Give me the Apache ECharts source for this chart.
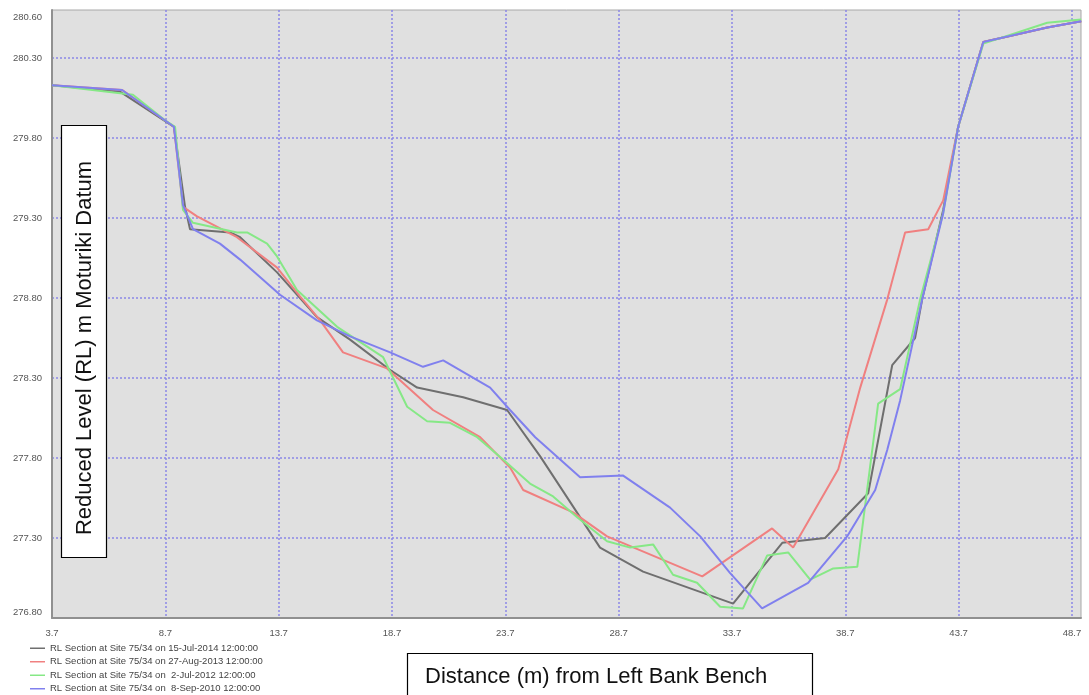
<!DOCTYPE html>
<html>
<head>
<meta charset="utf-8">
<script src="https://cdn.jsdelivr.net/npm/echarts@6/dist/echarts.min.js"></script>
<style>
html,body{margin:0;padding:0;background:#fff;}
#chart{width:1089px;height:695px;}
</style>
</head>
<body>
<div id="chart"></div>
<script>
// ---- Data (distance in m, reduced level in m) ----
var seriesNames = [
  'RL Section at Site 75/34 on 15-Jul-2014 12:00:00',
  'RL Section at Site 75/34 on 27-Aug-2013 12:00:00',
  'RL Section at Site 75/34 on  2-Jul-2012 12:00:00',
  'RL Section at Site 75/34 on  8-Sep-2010 12:00:00'
];

var dist2014 = [3.7, 6.7, 9.08, 9.57, 9.79, 11.56, 12.0, 13.63, 15.39, 16.85, 18.62, 19.81, 21.84, 23.78, 25.24, 27.88, 28.63, 29.78, 33.75, 35.92, 37.81, 39.71, 40.77, 41.78, 42.09, 43.02, 43.68, 44.79, 47.61, 49.11];
var rl2014   = [280.13, 280.09, 279.87, 279.37, 279.23, 279.21, 279.18, 278.96, 278.68, 278.54, 278.35, 278.24, 278.18, 278.10, 277.81, 277.24, 277.18, 277.09, 276.89, 277.27, 277.30, 277.58, 278.38, 278.55, 278.79, 279.35, 279.87, 280.40, 280.49, 280.53];

var dist2013 = [3.7, 6.8, 9.08, 9.48, 10.10, 11.86, 13.63, 14.64, 15.53, 16.54, 18.48, 20.51, 22.59, 23.91, 24.49, 26.69, 28.19, 32.39, 35.47, 36.40, 38.39, 39.36, 40.55, 41.34, 42.36, 43.02, 43.68, 44.79, 47.61, 49.11];
var rl2013   = [280.13, 280.10, 279.87, 279.37, 279.31, 279.18, 278.99, 278.81, 278.66, 278.46, 278.36, 278.10, 277.93, 277.74, 277.60, 277.46, 277.31, 277.06, 277.36, 277.24, 277.73, 278.24, 278.79, 279.21, 279.23, 279.41, 279.87, 280.40, 280.49, 280.53];

var dist2012 = [3.7, 7.27, 8.69, 9.13, 9.48, 9.92, 11.86, 12.31, 13.19, 13.63, 14.51, 16.28, 18.31, 19.37, 20.25, 21.26, 22.46, 23.60, 24.79, 25.81, 26.87, 28.19, 29.21, 30.22, 31.10, 32.16, 33.18, 34.19, 35.25, 36.18, 37.15, 38.17, 39.23, 40.15, 41.12, 42.0, 43.02, 43.68, 44.79, 47.61, 49.11];
var rl2012   = [280.13, 280.07, 279.91, 279.87, 279.35, 279.27, 279.21, 279.21, 279.14, 279.06, 278.85, 278.62, 278.43, 278.12, 278.03, 278.02, 277.93, 277.79, 277.64, 277.56, 277.43, 277.28, 277.24, 277.26, 277.07, 277.02, 276.87, 276.86, 277.19, 277.21, 277.04, 277.11, 277.12, 278.14, 278.23, 278.79, 279.33, 279.87, 280.39, 280.52, 280.54];

var dist2010 = [3.7, 6.79, 9.08, 9.48, 9.92, 11.11, 12.0, 13.76, 15.39, 16.85, 18.62, 20.07, 20.96, 23.03, 23.91, 25.02, 27.0, 28.90, 30.97, 32.30, 33.62, 35.03, 37.06, 38.78, 40.02, 40.55, 41.12, 42.09, 43.02, 43.68, 44.79, 47.61, 49.11];
var rl2010   = [280.13, 280.10, 279.87, 279.38, 279.23, 279.14, 279.04, 278.82, 278.66, 278.56, 278.46, 278.37, 278.41, 278.24, 278.10, 277.93, 277.68, 277.69, 277.49, 277.31, 277.08, 276.86, 277.02, 277.31, 277.60, 277.85, 278.16, 278.79, 279.33, 279.87, 280.40, 280.49, 280.53];

var xMin = 3.7, xMax = 49.1, xStep = 5;
var yMin = 276.8, yMax = 280.6, yStep = 0.5;

var colors = ['#6f6f6f', '#f08080', '#86e886', '#8080ee'];

function pairs(xs, ys) { return xs.map(function (x, i) { return [x, ys[i]]; }); }
var allDist = [dist2014, dist2013, dist2012, dist2010];
var allRL = [rl2014, rl2013, rl2012, rl2010];

var series = seriesNames.map(function (name, i) {
  return {
    name: name,
    type: 'line',
    data: pairs(allDist[i], allRL[i]),
    symbol: 'none',
    smooth: false,
    lineStyle: { width: 2, color: colors[i] },
    itemStyle: { color: colors[i] },
    z: 3 + i
  };
});

var chart = echarts.init(document.getElementById('chart'), null, { renderer: 'canvas' });
function gridLine() {
  return { show: true, showMinLine: false, showMaxLine: false,
           lineStyle: { color: '#8a86e6', width: 1.5, type: [2, 2] } };
}

chart.setOption({
  animation: false,
  backgroundColor: '#ffffff',
  color: colors,
  grid: {
    left: 52, right: 8, top: 10, bottom: 77,
    show: true, backgroundColor: '#e0e0e0', borderColor: '#a8a8a8', borderWidth: 1
  },
  legend: {
    orient: 'vertical',
    left: 30, top: 643, height: 120,
    padding: 0,
    icon: 'rect',
    itemWidth: 15, itemHeight: 1.5,
    itemGap: 3,
    textStyle: { fontFamily: 'Liberation Sans', fontSize: 9.5, color: '#444', lineHeight: 10.5 },
    data: seriesNames
  },
  xAxis: {
    type: 'value',
    min: xMin, max: xMax, interval: xStep,
    axisLine: { show: true, onZero: false, lineStyle: { color: '#909090', width: 2 } },
    axisTick: { show: false },
    splitLine: gridLine(),
    axisLabel: {
      showMaxLabel: false,
      margin: 10,
      fontFamily: 'Liberation Sans', fontSize: 9.5, color: '#555',
      formatter: function (v) { return v.toFixed(1); }
    }
  },
  yAxis: {
    type: 'value',
    min: yMin, max: yMax, interval: yStep,
    axisLine: { show: true, onZero: false, lineStyle: { color: '#909090', width: 2 } },
    axisTick: { show: false },
    splitLine: gridLine(),
    axisLabel: {
      margin: 10,
      fontFamily: 'Liberation Sans', fontSize: 9.5, color: '#555',
      formatter: function (v) {
        var s = v.toFixed(2);
        if (Math.abs(v - yMax) < 1e-6) return '{t|' + s + '}';
        if (Math.abs(v - yMin) < 1e-6) return '{b|' + s + '}';
        return s;
      },
      rich: {
        t: { padding: [14, 0, 0, 0], fontFamily: 'Liberation Sans', fontSize: 9.5, color: '#555' },
        b: { padding: [0, 0, 12, 0], fontFamily: 'Liberation Sans', fontSize: 9.5, color: '#555' }
      }
    }
  },
  graphic: [
    {
      type: 'rect', z: 100,
      shape: { x: 61.5, y: 125.5, width: 45, height: 432 },
      style: { fill: '#ffffff', stroke: '#000000', lineWidth: 1.2 }
    },
    {
      type: 'text', z: 101,
      x: 85, y: 348, rotation: Math.PI / 2,
      style: {
        text: 'Reduced Level (RL) m Moturiki Datum',
        fontFamily: 'Liberation Sans', fontSize: 22, fill: '#111',
        align: 'center', verticalAlign: 'middle'
      }
    },
    {
      type: 'rect', z: 100,
      shape: { x: 407.5, y: 653.5, width: 405, height: 60 },
      style: { fill: '#ffffff', stroke: '#000000', lineWidth: 1.2 }
    },
    {
      type: 'text', z: 101,
      x: 425, y: 677,
      style: {
        text: 'Distance (m) from Left Bank Bench',
        fontFamily: 'Liberation Sans', fontSize: 22, fill: '#111',
        align: 'left', verticalAlign: 'middle'
      }
    }
  ],
  series: series
});
</script>
</body>
</html>
